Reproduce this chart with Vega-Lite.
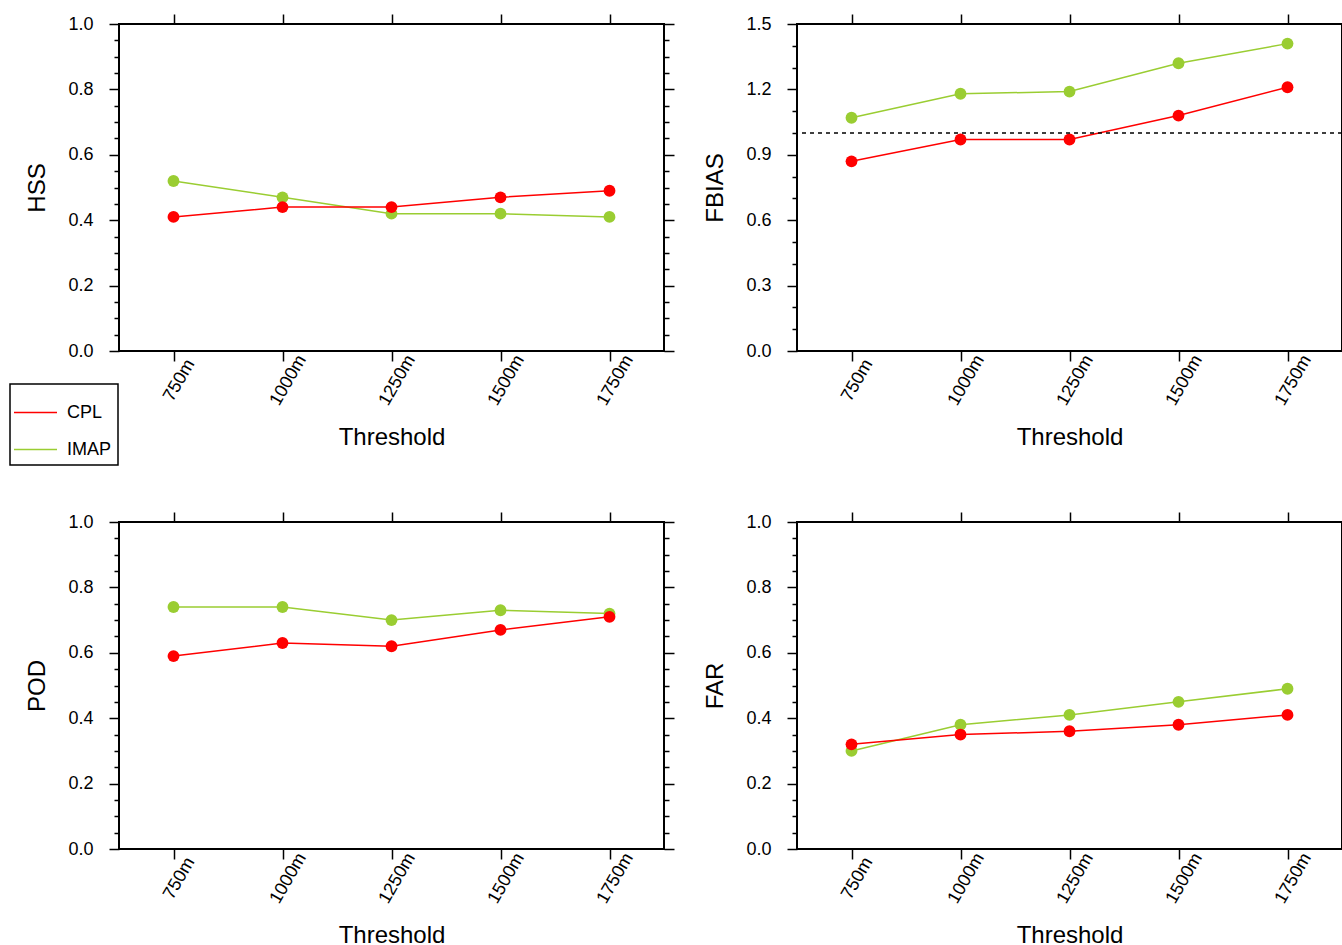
{
  "$schema": "https://vega.github.io/schema/vega-lite/v6.json",
  "padding": {"left": 9, "top": 12, "right": 0, "bottom": 0},
  "config": {
    "font": "Liberation Sans",
    "view": {"stroke": "black", "strokeWidth": 2},
    "axis": {"domain": false, "grid": false, "tickColor": "black", "tickWidth": 1.5, "labelFontSize": 18, "labelColor": "black", "titleFontSize": 24, "titleFontWeight": "normal", "titleColor": "black", "labelFont": "Liberation Sans", "titleFont": "Liberation Sans"},
    "legend": {"orient": "none", "legendX": -109, "legendY": 360, "strokeColor": "black", "strokeWidth": 1.5, "padding": 6, "symbolType": "stroke", "symbolSize": 1849, "symbolStrokeWidth": 1.5, "symbolOffset": -3, "labelFontSize": 18, "labelColor": "black", "labelOffset": 9, "rowPadding": 5, "title": null, "fillColor": "white"}
  },
  "datasets": {
    "d": [
      {"metric": "HSS", "thr": "750m", "model": "IMAP", "value": 0.52},
      {"metric": "HSS", "thr": "1000m", "model": "IMAP", "value": 0.47},
      {"metric": "HSS", "thr": "1250m", "model": "IMAP", "value": 0.42},
      {"metric": "HSS", "thr": "1500m", "model": "IMAP", "value": 0.42},
      {"metric": "HSS", "thr": "1750m", "model": "IMAP", "value": 0.41},
      {"metric": "HSS", "thr": "750m", "model": "CPL", "value": 0.41},
      {"metric": "HSS", "thr": "1000m", "model": "CPL", "value": 0.44},
      {"metric": "HSS", "thr": "1250m", "model": "CPL", "value": 0.44},
      {"metric": "HSS", "thr": "1500m", "model": "CPL", "value": 0.47},
      {"metric": "HSS", "thr": "1750m", "model": "CPL", "value": 0.49},
      {"metric": "FBIAS", "thr": "750m", "model": "IMAP", "value": 1.07},
      {"metric": "FBIAS", "thr": "1000m", "model": "IMAP", "value": 1.18},
      {"metric": "FBIAS", "thr": "1250m", "model": "IMAP", "value": 1.19},
      {"metric": "FBIAS", "thr": "1500m", "model": "IMAP", "value": 1.32},
      {"metric": "FBIAS", "thr": "1750m", "model": "IMAP", "value": 1.41},
      {"metric": "FBIAS", "thr": "750m", "model": "CPL", "value": 0.87},
      {"metric": "FBIAS", "thr": "1000m", "model": "CPL", "value": 0.97},
      {"metric": "FBIAS", "thr": "1250m", "model": "CPL", "value": 0.97},
      {"metric": "FBIAS", "thr": "1500m", "model": "CPL", "value": 1.08},
      {"metric": "FBIAS", "thr": "1750m", "model": "CPL", "value": 1.21},
      {"metric": "POD", "thr": "750m", "model": "IMAP", "value": 0.74},
      {"metric": "POD", "thr": "1000m", "model": "IMAP", "value": 0.74},
      {"metric": "POD", "thr": "1250m", "model": "IMAP", "value": 0.70},
      {"metric": "POD", "thr": "1500m", "model": "IMAP", "value": 0.73},
      {"metric": "POD", "thr": "1750m", "model": "IMAP", "value": 0.72},
      {"metric": "POD", "thr": "750m", "model": "CPL", "value": 0.59},
      {"metric": "POD", "thr": "1000m", "model": "CPL", "value": 0.63},
      {"metric": "POD", "thr": "1250m", "model": "CPL", "value": 0.62},
      {"metric": "POD", "thr": "1500m", "model": "CPL", "value": 0.67},
      {"metric": "POD", "thr": "1750m", "model": "CPL", "value": 0.71},
      {"metric": "FAR", "thr": "750m", "model": "IMAP", "value": 0.30},
      {"metric": "FAR", "thr": "1000m", "model": "IMAP", "value": 0.38},
      {"metric": "FAR", "thr": "1250m", "model": "IMAP", "value": 0.41},
      {"metric": "FAR", "thr": "1500m", "model": "IMAP", "value": 0.45},
      {"metric": "FAR", "thr": "1750m", "model": "IMAP", "value": 0.49},
      {"metric": "FAR", "thr": "750m", "model": "CPL", "value": 0.32},
      {"metric": "FAR", "thr": "1000m", "model": "CPL", "value": 0.35},
      {"metric": "FAR", "thr": "1250m", "model": "CPL", "value": 0.36},
      {"metric": "FAR", "thr": "1500m", "model": "CPL", "value": 0.38},
      {"metric": "FAR", "thr": "1750m", "model": "CPL", "value": 0.41}
    ],
    "ref": [{"v": 1}]
  },
  "data": {"name": "d"},
  "bounds": "flush",
  "columns": 2,
  "spacing": {"row": 171, "column": 133},
  "concat": [
    {
      "width": 545, "height": 327,
      "transform": [{"filter": "datum.metric == 'HSS'"}],
      "resolve": {"axis": {"x": "independent", "y": "independent"}},
      "layer": [
        {
          "mark": {"type": "line", "strokeWidth": 1.5, "point": {"filled": true, "size": 140, "opacity": 1}},
          "encoding": {
            "x": {"field": "thr", "type": "ordinal", "sort": ["750m", "1000m", "1250m", "1500m", "1750m"], "scale": {"type": "point", "padding": 0.5}, "axis": {"orient": "bottom", "title": "Threshold", "labelAngle": -60, "labelAlign": "center", "labelBaseline": "middle", "labelOffset": 5.5, "tickSize": 10, "labelPadding": 19, "titlePadding": 17}},
            "y": {"field": "value", "type": "quantitative", "scale": {"domain": [0, 1], "nice": false}, "axis": {"orient": "left", "title": "HSS", "titlePadding": 18, "values": [0, 0.05, 0.1, 0.15, 0.2, 0.25, 0.3, 0.35, 0.4, 0.45, 0.5, 0.55, 0.6, 0.65, 0.7, 0.75, 0.8, 0.85, 0.9, 0.95, 1], "labelExpr": "abs(datum.value*5-round(datum.value*5))<0.001 ? format(datum.value, '.1f') : ''", "tickSize": {"condition": {"test": "abs(datum.value*5-round(datum.value*5))<0.001", "value": 10}, "value": 5}, "labelPadding": 16}},
            "color": {"field": "model", "type": "nominal", "scale": {"domain": ["CPL", "IMAP"], "range": ["#ff0000", "#9acd32"]}}
          }
        },
        {
          "mark": {"type": "point", "opacity": 0},
          "encoding": {
            "x": {"field": "thr", "type": "ordinal", "sort": ["750m", "1000m", "1250m", "1500m", "1750m"], "scale": {"type": "point", "padding": 0.5}, "axis": {"orient": "top", "title": null, "labels": false, "tickSize": 10}},
            "y": {"field": "value", "type": "quantitative", "scale": {"domain": [0, 1], "nice": false}, "axis": {"orient": "right", "title": null, "labels": false, "values": [0, 0.05, 0.1, 0.15, 0.2, 0.25, 0.3, 0.35, 0.4, 0.45, 0.5, 0.55, 0.6, 0.65, 0.7, 0.75, 0.8, 0.85, 0.9, 0.95, 1], "tickSize": {"condition": {"test": "abs(datum.value*5-round(datum.value*5))<0.001", "value": 10}, "value": 5}}}
          }
        }
      ]
    },
    {
      "width": 545, "height": 327,
      "transform": [{"filter": "datum.metric == 'FBIAS'"}],
      "resolve": {"axis": {"x": "independent", "y": "independent"}},
      "layer": [
        {
          "mark": {"type": "line", "strokeWidth": 1.5, "point": {"filled": true, "size": 140, "opacity": 1}},
          "encoding": {
            "x": {"field": "thr", "type": "ordinal", "sort": ["750m", "1000m", "1250m", "1500m", "1750m"], "scale": {"type": "point", "padding": 0.5}, "axis": {"orient": "bottom", "title": "Threshold", "labelAngle": -60, "labelAlign": "center", "labelBaseline": "middle", "labelOffset": 5.5, "tickSize": 10, "labelPadding": 19, "titlePadding": 17}},
            "y": {"field": "value", "type": "quantitative", "scale": {"domain": [0, 1.5], "nice": false}, "axis": {"orient": "left", "title": "FBIAS", "titlePadding": 18, "values": [0, 0.1, 0.2, 0.3, 0.4, 0.5, 0.6, 0.7, 0.8, 0.9, 1, 1.1, 1.2, 1.3, 1.4, 1.5], "labelExpr": "abs(datum.value/0.3-round(datum.value/0.3))<0.001 ? format(datum.value, '.1f') : ''", "tickSize": {"condition": {"test": "abs(datum.value/0.3-round(datum.value/0.3))<0.001", "value": 10}, "value": 5}, "labelPadding": 16}},
            "color": {"field": "model", "type": "nominal", "scale": {"domain": ["CPL", "IMAP"], "range": ["#ff0000", "#9acd32"]}}
          }
        },
        {
          "data": {"name": "ref"},
          "mark": {"type": "rule", "color": "black", "strokeWidth": 1.5, "strokeDash": [4, 4]},
          "encoding": {"y": {"field": "v", "type": "quantitative"}}
        },
        {
          "mark": {"type": "point", "opacity": 0},
          "encoding": {
            "x": {"field": "thr", "type": "ordinal", "sort": ["750m", "1000m", "1250m", "1500m", "1750m"], "scale": {"type": "point", "padding": 0.5}, "axis": {"orient": "top", "title": null, "labels": false, "tickSize": 10}},
            "y": {"field": "value", "type": "quantitative", "scale": {"domain": [0, 1.5], "nice": false}, "axis": {"orient": "right", "title": null, "labels": false, "values": [0, 0.1, 0.2, 0.3, 0.4, 0.5, 0.6, 0.7, 0.8, 0.9, 1, 1.1, 1.2, 1.3, 1.4, 1.5], "tickSize": {"condition": {"test": "abs(datum.value/0.3-round(datum.value/0.3))<0.001", "value": 10}, "value": 5}}}
          }
        }
      ]
    },
    {
      "width": 545, "height": 327,
      "transform": [{"filter": "datum.metric == 'POD'"}],
      "resolve": {"axis": {"x": "independent", "y": "independent"}},
      "layer": [
        {
          "mark": {"type": "line", "strokeWidth": 1.5, "point": {"filled": true, "size": 140, "opacity": 1}},
          "encoding": {
            "x": {"field": "thr", "type": "ordinal", "sort": ["750m", "1000m", "1250m", "1500m", "1750m"], "scale": {"type": "point", "padding": 0.5}, "axis": {"orient": "bottom", "title": "Threshold", "labelAngle": -60, "labelAlign": "center", "labelBaseline": "middle", "labelOffset": 5.5, "tickSize": 10, "labelPadding": 19, "titlePadding": 17}},
            "y": {"field": "value", "type": "quantitative", "scale": {"domain": [0, 1], "nice": false}, "axis": {"orient": "left", "title": "POD", "titlePadding": 18, "values": [0, 0.05, 0.1, 0.15, 0.2, 0.25, 0.3, 0.35, 0.4, 0.45, 0.5, 0.55, 0.6, 0.65, 0.7, 0.75, 0.8, 0.85, 0.9, 0.95, 1], "labelExpr": "abs(datum.value*5-round(datum.value*5))<0.001 ? format(datum.value, '.1f') : ''", "tickSize": {"condition": {"test": "abs(datum.value*5-round(datum.value*5))<0.001", "value": 10}, "value": 5}, "labelPadding": 16}},
            "color": {"field": "model", "type": "nominal", "scale": {"domain": ["CPL", "IMAP"], "range": ["#ff0000", "#9acd32"]}}
          }
        },
        {
          "mark": {"type": "point", "opacity": 0},
          "encoding": {
            "x": {"field": "thr", "type": "ordinal", "sort": ["750m", "1000m", "1250m", "1500m", "1750m"], "scale": {"type": "point", "padding": 0.5}, "axis": {"orient": "top", "title": null, "labels": false, "tickSize": 10}},
            "y": {"field": "value", "type": "quantitative", "scale": {"domain": [0, 1], "nice": false}, "axis": {"orient": "right", "title": null, "labels": false, "values": [0, 0.05, 0.1, 0.15, 0.2, 0.25, 0.3, 0.35, 0.4, 0.45, 0.5, 0.55, 0.6, 0.65, 0.7, 0.75, 0.8, 0.85, 0.9, 0.95, 1], "tickSize": {"condition": {"test": "abs(datum.value*5-round(datum.value*5))<0.001", "value": 10}, "value": 5}}}
          }
        }
      ]
    },
    {
      "width": 545, "height": 327,
      "transform": [{"filter": "datum.metric == 'FAR'"}],
      "resolve": {"axis": {"x": "independent", "y": "independent"}},
      "layer": [
        {
          "mark": {"type": "line", "strokeWidth": 1.5, "point": {"filled": true, "size": 140, "opacity": 1}},
          "encoding": {
            "x": {"field": "thr", "type": "ordinal", "sort": ["750m", "1000m", "1250m", "1500m", "1750m"], "scale": {"type": "point", "padding": 0.5}, "axis": {"orient": "bottom", "title": "Threshold", "labelAngle": -60, "labelAlign": "center", "labelBaseline": "middle", "labelOffset": 5.5, "tickSize": 10, "labelPadding": 19, "titlePadding": 17}},
            "y": {"field": "value", "type": "quantitative", "scale": {"domain": [0, 1], "nice": false}, "axis": {"orient": "left", "title": "FAR", "titlePadding": 18, "values": [0, 0.05, 0.1, 0.15, 0.2, 0.25, 0.3, 0.35, 0.4, 0.45, 0.5, 0.55, 0.6, 0.65, 0.7, 0.75, 0.8, 0.85, 0.9, 0.95, 1], "labelExpr": "abs(datum.value*5-round(datum.value*5))<0.001 ? format(datum.value, '.1f') : ''", "tickSize": {"condition": {"test": "abs(datum.value*5-round(datum.value*5))<0.001", "value": 10}, "value": 5}, "labelPadding": 16}},
            "color": {"field": "model", "type": "nominal", "scale": {"domain": ["CPL", "IMAP"], "range": ["#ff0000", "#9acd32"]}}
          }
        },
        {
          "mark": {"type": "point", "opacity": 0},
          "encoding": {
            "x": {"field": "thr", "type": "ordinal", "sort": ["750m", "1000m", "1250m", "1500m", "1750m"], "scale": {"type": "point", "padding": 0.5}, "axis": {"orient": "top", "title": null, "labels": false, "tickSize": 10}},
            "y": {"field": "value", "type": "quantitative", "scale": {"domain": [0, 1], "nice": false}, "axis": {"orient": "right", "title": null, "labels": false, "values": [0, 0.05, 0.1, 0.15, 0.2, 0.25, 0.3, 0.35, 0.4, 0.45, 0.5, 0.55, 0.6, 0.65, 0.7, 0.75, 0.8, 0.85, 0.9, 0.95, 1], "tickSize": {"condition": {"test": "abs(datum.value*5-round(datum.value*5))<0.001", "value": 10}, "value": 5}}}
          }
        }
      ]
    }
  ]
}
